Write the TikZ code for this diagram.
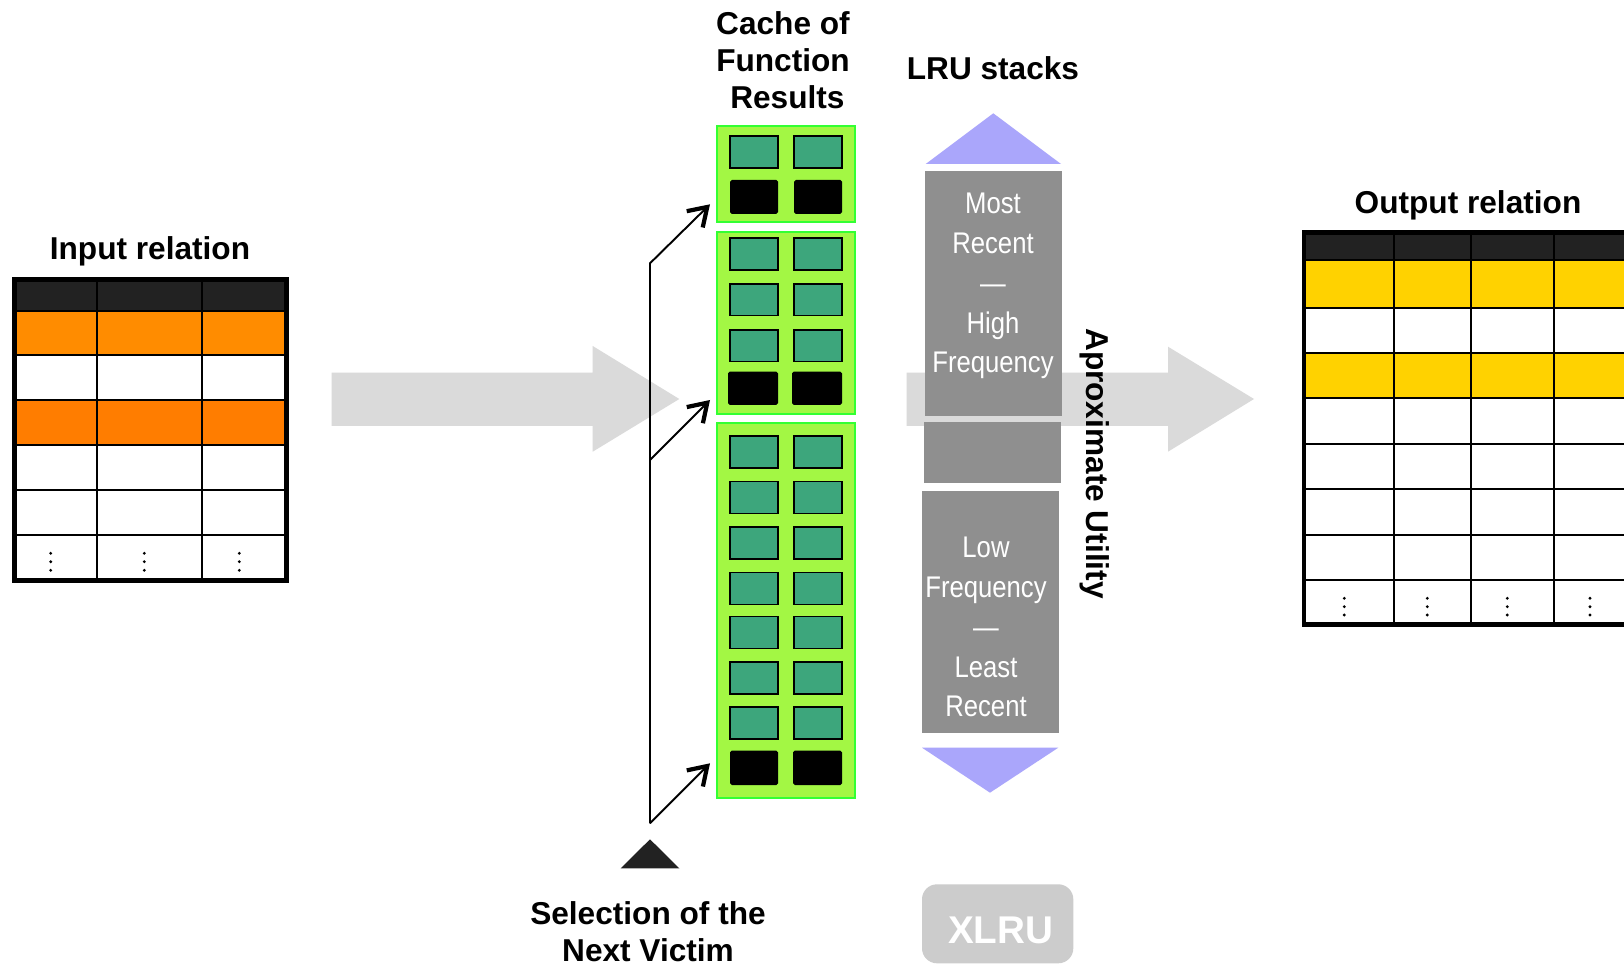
\documentclass[tikz,border=0pt]{standalone}
\usepackage{fontspec}
\setmainfont{Liberation Sans}
\newfontfamily\narrowfont{Liberation Sans}[FakeStretch=0.86]
\usetikzlibrary{arrows.meta,fit}

\definecolor{flowgray}{HTML}{DADADA}
\definecolor{hdrdark}{HTML}{222222}
\definecolor{orangeA}{HTML}{FF8C00}
\definecolor{orangeB}{HTML}{FF7D00}
\definecolor{goldrow}{HTML}{FFD200}
\definecolor{limefill}{HTML}{A3F744}
\definecolor{limeedge}{HTML}{33FF33}
\definecolor{cellteal}{HTML}{3DA67C}
\definecolor{stackgray}{HTML}{8F8F8F}
\definecolor{lavender}{HTML}{AAA6FB}
\definecolor{badgegray}{HTML}{CCCCCC}

\tikzset{
  title/.style={font=\fontsize{18}{21.1}\selectfont\bfseries, align=center, inner sep=0pt},
  tableframe/.style={draw=black, line width=2.6pt, inner sep=0pt},
  gridline/.style={draw=black, line width=1.2pt},
  cacheblock/.style={draw=limeedge, fill=limefill, line width=1.1pt, inner sep=0pt},
  tealcell/.style={fill=cellteal, draw=black, line width=1.1pt},
  blackcell/.style={fill=black, rounded corners=1pt},
  stackbox/.style={fill=stackgray, inner sep=0pt},
  stacktext/.style={text=white, font=\narrowfont\fontsize{17}{22.7}\selectfont, align=center, inner sep=0pt},
  selline/.style={draw=black, line width=1.1pt, -{Straight Barb[length=10pt,width=13pt,line width=2.4pt]}},
}

\begin{document}
\begin{tikzpicture}[x=0.02cm, y=-0.02cm]
\useasboundingbox (0,0) rectangle (1624,966);
\clip (0,0) rectangle (1624,966);
\fill[white] (0,0) rectangle (1624,966);

% ---------- broad flow arrows ----------
\fill[flowgray] (331.7,372.7) -- (592.7,372.7) -- (592.7,346) -- (679.3,399)
  -- (592.7,451.7) -- (592.7,426) -- (331.7,426) -- cycle;
\fill[flowgray] (906.7,372.7) -- (1168,372.7) -- (1168,346.7) -- (1254,399)
  -- (1168,451.7) -- (1168,426) -- (906.7,426) -- cycle;

% ---------- input relation ----------
\node[title, anchor=base] (intitle) at (150,259.5) {Input relation};
\fill[white] (14,279) rectangle (287,581);
\fill[hdrdark] (14,279) rectangle (287,310.7);
\fill[orangeA] (14,310.7) rectangle (287,355);
\fill[orangeB] (14,400) rectangle (287,445);
\foreach \yy in {310.7,355,400,445,490,535}
  \draw[gridline] (14,\yy) -- (287,\yy);
\foreach \xx in {97,202}
  \draw[gridline] (\xx,279) -- (\xx,581);
\node[tableframe, fit={(14.5,279.5) (286.5,580.5)}] (intab) {};
\foreach \xx in {50.7,144.3,239.3}
  \foreach \yy in {553.3,561.7,570.3}
    \fill (\xx,\yy) circle (1.6);

% ---------- output relation ----------
\node[title, anchor=base] (outtitle) at (1468,214) {Output relation};
\fill[white] (1304,232.5) rectangle (1660,624.5);
\fill[hdrdark] (1304,232.5) rectangle (1660,260);
\fill[goldrow] (1304,260) rectangle (1660,307.7);
\fill[goldrow] (1304,353) rectangle (1660,398);
\foreach \yy in {260,307.7,353,398,444,489,535,580}
  \draw[gridline] (1304,\yy) -- (1660,\yy);
\foreach \xx in {1394,1471,1554}
  \draw[gridline] (\xx,232.5) -- (\xx,624.5);
\node[tableframe, line width=2.8pt, fit={(1304,232.5) (1660,624.5)}] (outtab) {};
\foreach \xx in {1344.3,1427.3,1507.3,1590}
  \foreach \yy in {598.3,606.7,615}
    \fill (\xx,\yy) circle (1.6);

% ---------- cache of function results ----------
\node[title] (cachetitle) at (783,60) {Cache of\\Function\\\ Results};
\node[cacheblock, fit={(716.7,125.7) (855,222.3)}] (blk1) {};
\node[cacheblock, fit={(716.7,231.7) (855,414)}] (blk2) {};
\node[cacheblock, fit={(716.7,423.3) (855,797.7)}] (blk3) {};
% block 1
\draw[tealcell] (730,136) rectangle (778,168.3);
\draw[tealcell] (794,136) rectangle (842,168.3);
\fill[blackcell] (730,180) rectangle (778,214);
\fill[blackcell] (794,180) rectangle (842,214);
% block 2
\foreach \tt in {238.3,284,330}{
  \draw[tealcell] (730,\tt) rectangle (778,\tt+31.5);
  \draw[tealcell] (794,\tt) rectangle (842,\tt+31.5);
}
\fill[blackcell] (728,371.7) rectangle (778,405);
\fill[blackcell] (792,371.7) rectangle (842,405);
% block 3
\foreach \tt in {436,481.5,527,572.5,616.5,661.7,706.7}{
  \draw[tealcell] (730,\tt) rectangle (778,\tt+32);
  \draw[tealcell] (794,\tt) rectangle (842,\tt+32);
}
\fill[blackcell] (730,750.7) rectangle (778,785);
\fill[blackcell] (793,750.7) rectangle (842,785);

% ---------- victim selection ----------
\coordinate (selbase) at (650,823.3);
\coordinate (selknee) at (650,263.3);
\coordinate (selmid) at (650,460);
\coordinate (tip1) at (710,204.3);
\coordinate (tip2) at (710,400);
\coordinate (tip3) at (710,763.3);
\draw[selline] (selbase) -- (selknee) -- (tip1);
\draw[selline] (selmid) -- (tip2);
\draw[selline] (selbase) -- (tip3);
\fill[hdrdark] (620.7,868.3) -- (650,839.3) -- (679.3,868.3) -- cycle;
\node[title, text depth=0pt] (seltitle) at (648,932) {Selection of the\\Next Victim};

% ---------- LRU stacks ----------
\node[title, anchor=base] (lrutitle) at (993,79.3) {LRU stacks};
\fill[lavender] (925.7,164) -- (993.3,113.3) -- (1061,164) -- cycle;
\node[stackbox, fit={(925,171) (1062,415.7)}] (stack1) {};
\node[stackbox, fit={(924,421.7) (1061,482.7)}] (stack2) {};
\node[stackbox, fit={(922,491) (1059,732.7)}] (stack3) {};
\fill[lavender] (922,747.7) -- (990,792.7) -- (1058.3,747.7) -- cycle;
\node[stacktext] (hightext) at (993,286) {Most\\Recent\\—\\High\\Frequency};
\node[stacktext] (lowtext) at (986,627) {Low\\Frequency\\—\\Least\\Recent};
\node[title, rotate=-90] (utility) at (1095,463.5) {Aproximate Utility};

% ---------- XLRU badge ----------
\node[fill=badgegray, rounded corners=0.3cm, inner sep=0pt, fit={(922,884.3) (1073.3,963.3)}] (xlru) {};
\node[anchor=base, text=white, font=\fontsize{22}{26}\selectfont\bfseries, inner sep=0pt] (xlrutext) at (1000.7,943.3) {XLRU};
\end{tikzpicture}
\end{document}
